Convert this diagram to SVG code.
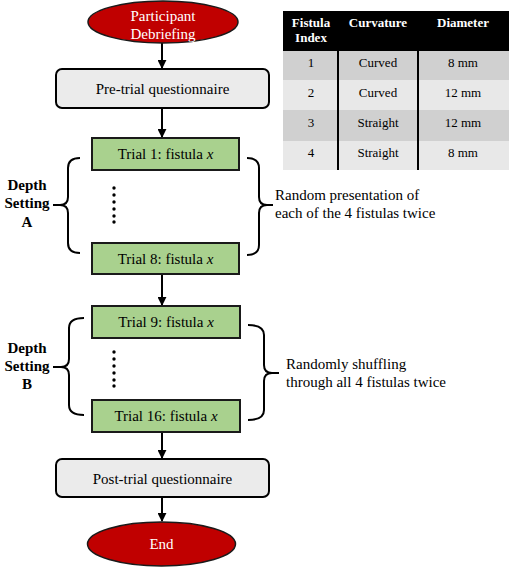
<svg xmlns="http://www.w3.org/2000/svg" width="510" height="571" viewBox="0 0 510 571">
<style>
.t{font-family:"Liberation Serif","Times New Roman",serif;font-size:15px;fill:#000;text-anchor:middle}
.w{fill:#fff}
.b{font-weight:bold}
.s{font-size:13px}
.l{text-anchor:start}
.gray{fill:#ebebeb;stroke:#000;stroke-width:2}
.green{fill:#a9d18e;stroke:#1a1a1a;stroke-width:2}
.red{fill:#c00000;stroke:#1a1a1a;stroke-width:1.5}
.arr{stroke:#000;stroke-width:2;fill:none;marker-end:url(#ah)}
.br{stroke:#000;stroke-width:2;fill:none}
</style>
<defs>
<marker id="ah" viewBox="0 0 10 10" refX="9" refY="5" markerWidth="4.5" markerHeight="4.5" orient="auto" markerUnits="strokeWidth">
<path d="M0,0 L10,5 L0,10 z" fill="#000"/>
</marker>
</defs>
<rect width="510" height="571" fill="#fff"/>

<g id="connectors">
<line class="arr" x1="162" y1="43" x2="162" y2="68"/>
<line class="arr" x1="162" y1="108" x2="162" y2="137"/>
<line class="arr" x1="162" y1="275" x2="162" y2="305"/>
<line class="arr" x1="162" y1="432" x2="162" y2="458"/>
<line class="arr" x1="162" y1="497" x2="162" y2="521"/>
</g>

<g id="braces">
<path class="br" d="M80,158 Q68,158 68,168 L68,197 Q68,205 60,205 Q68,205 68,213 L68,243 Q68,253 80,253 M53,205 L62,205"/>
<path class="br" d="M247,158 Q259,158 259,168 L259,197 Q259,205 267,205 Q259,205 259,213 L259,245 Q259,255 247,255 M265,205 L273,205"/>
<path class="br" d="M84,318 Q69,318 69,328 L69,359 Q69,367 61,367 Q69,367 69,375 L69,405 Q69,415 84,415 M53,367 L63,367"/>
<path class="br" d="M248,325 Q264,325 264,335 L264,365 Q264,373 272,373 Q264,373 264,381 L264,410 Q264,420 248,420 M270,373 L279,373"/>
</g>

<g id="start">
<ellipse class="red" cx="163" cy="22" rx="75" ry="21"/>
<text class="t w" x="163" y="21">Participant</text>
<text class="t w" x="163" y="39">Debriefing</text>
</g>

<g id="pretrial">
<rect class="gray" x="56" y="69" width="213" height="39" rx="6"/>
<text class="t" x="162.5" y="94">Pre-trial questionnaire</text>
</g>

<g id="trial1">
<rect class="green" x="92" y="138" width="147" height="32"/>
<text class="t" x="165.5" y="159">Trial 1: fistula <tspan font-style="italic">x</tspan></text>
</g>

<g id="dotsA" fill="#000">
<circle cx="114" cy="188" r="1.7"/><circle cx="114" cy="195" r="1.7"/><circle cx="114" cy="202" r="1.7"/>
<circle cx="114" cy="209" r="1.7"/><circle cx="114" cy="216" r="1.7"/><circle cx="114" cy="222" r="1.7"/>
</g>

<g id="trial8">
<rect class="green" x="92" y="243" width="147" height="31"/>
<text class="t" x="165.5" y="264">Trial 8: fistula <tspan font-style="italic">x</tspan></text>
</g>

<g id="depthA">
<text class="t b" x="27" y="190">Depth</text>
<text class="t b" x="27" y="208">Setting</text>
<text class="t b" x="27" y="227">A</text>
</g>

<g id="noteA">
<text class="t l" x="275" y="200">Random presentation of</text>
<text class="t l" x="275" y="218">each of the 4 fistulas twice</text>
</g>

<g id="trial9">
<rect class="green" x="92" y="306" width="148" height="32"/>
<text class="t" x="166" y="327">Trial 9: fistula <tspan font-style="italic">x</tspan></text>
</g>

<g id="dotsB" fill="#000">
<circle cx="114" cy="352" r="1.7"/><circle cx="114" cy="359" r="1.7"/><circle cx="114" cy="366" r="1.7"/>
<circle cx="114" cy="373" r="1.7"/><circle cx="114" cy="380" r="1.7"/><circle cx="114" cy="386" r="1.7"/>
</g>

<g id="trial16">
<rect class="green" x="92" y="400" width="148" height="32"/>
<text class="t" x="166" y="421">Trial 16: fistula <tspan font-style="italic">x</tspan></text>
</g>

<g id="depthB">
<text class="t b" x="27" y="353">Depth</text>
<text class="t b" x="27" y="371">Setting</text>
<text class="t b" x="27" y="389">B</text>
</g>

<g id="noteB">
<text class="t l" x="286" y="369">Randomly shuffling</text>
<text class="t l" x="286" y="387">through all 4 fistulas twice</text>
</g>

<g id="posttrial">
<rect class="gray" x="56" y="459" width="213" height="38" rx="6"/>
<text class="t" x="162.5" y="484">Post-trial questionnaire</text>
</g>

<g id="end">
<ellipse class="red" cx="161.5" cy="544" rx="74" ry="22"/>
<text class="t w" x="161.5" y="549">End</text>
</g>

<g id="table">
<rect x="283" y="11" width="226" height="40" fill="#000"/>
<rect x="283" y="51" width="226" height="29" fill="#d0d0d0"/>
<rect x="283" y="80" width="226" height="30" fill="#e8e8e8"/>
<rect x="283" y="110" width="226" height="31" fill="#d0d0d0"/>
<rect x="283" y="141" width="226" height="29" fill="#e8e8e8"/>
<line x1="338" y1="51" x2="338" y2="170" stroke="#000" stroke-width="2"/>
<line x1="418" y1="51" x2="418" y2="170" stroke="#000" stroke-width="2"/>
<text class="t s b w" x="311" y="27">Fistula</text>
<text class="t s b w" x="311" y="42">Index</text>
<text class="t s b w" x="378" y="27">Curvature</text>
<text class="t s b w" x="463" y="27">Diameter</text>
<text class="t s" x="311" y="67">1</text><text class="t s" x="378" y="67">Curved</text><text class="t s" x="463" y="67">8 mm</text>
<text class="t s" x="311" y="97">2</text><text class="t s" x="378" y="97">Curved</text><text class="t s" x="463" y="97">12 mm</text>
<text class="t s" x="311" y="127">3</text><text class="t s" x="378" y="127">Straight</text><text class="t s" x="463" y="127">12 mm</text>
<text class="t s" x="311" y="157">4</text><text class="t s" x="378" y="157">Straight</text><text class="t s" x="463" y="157">8 mm</text>
</g>
</svg>
